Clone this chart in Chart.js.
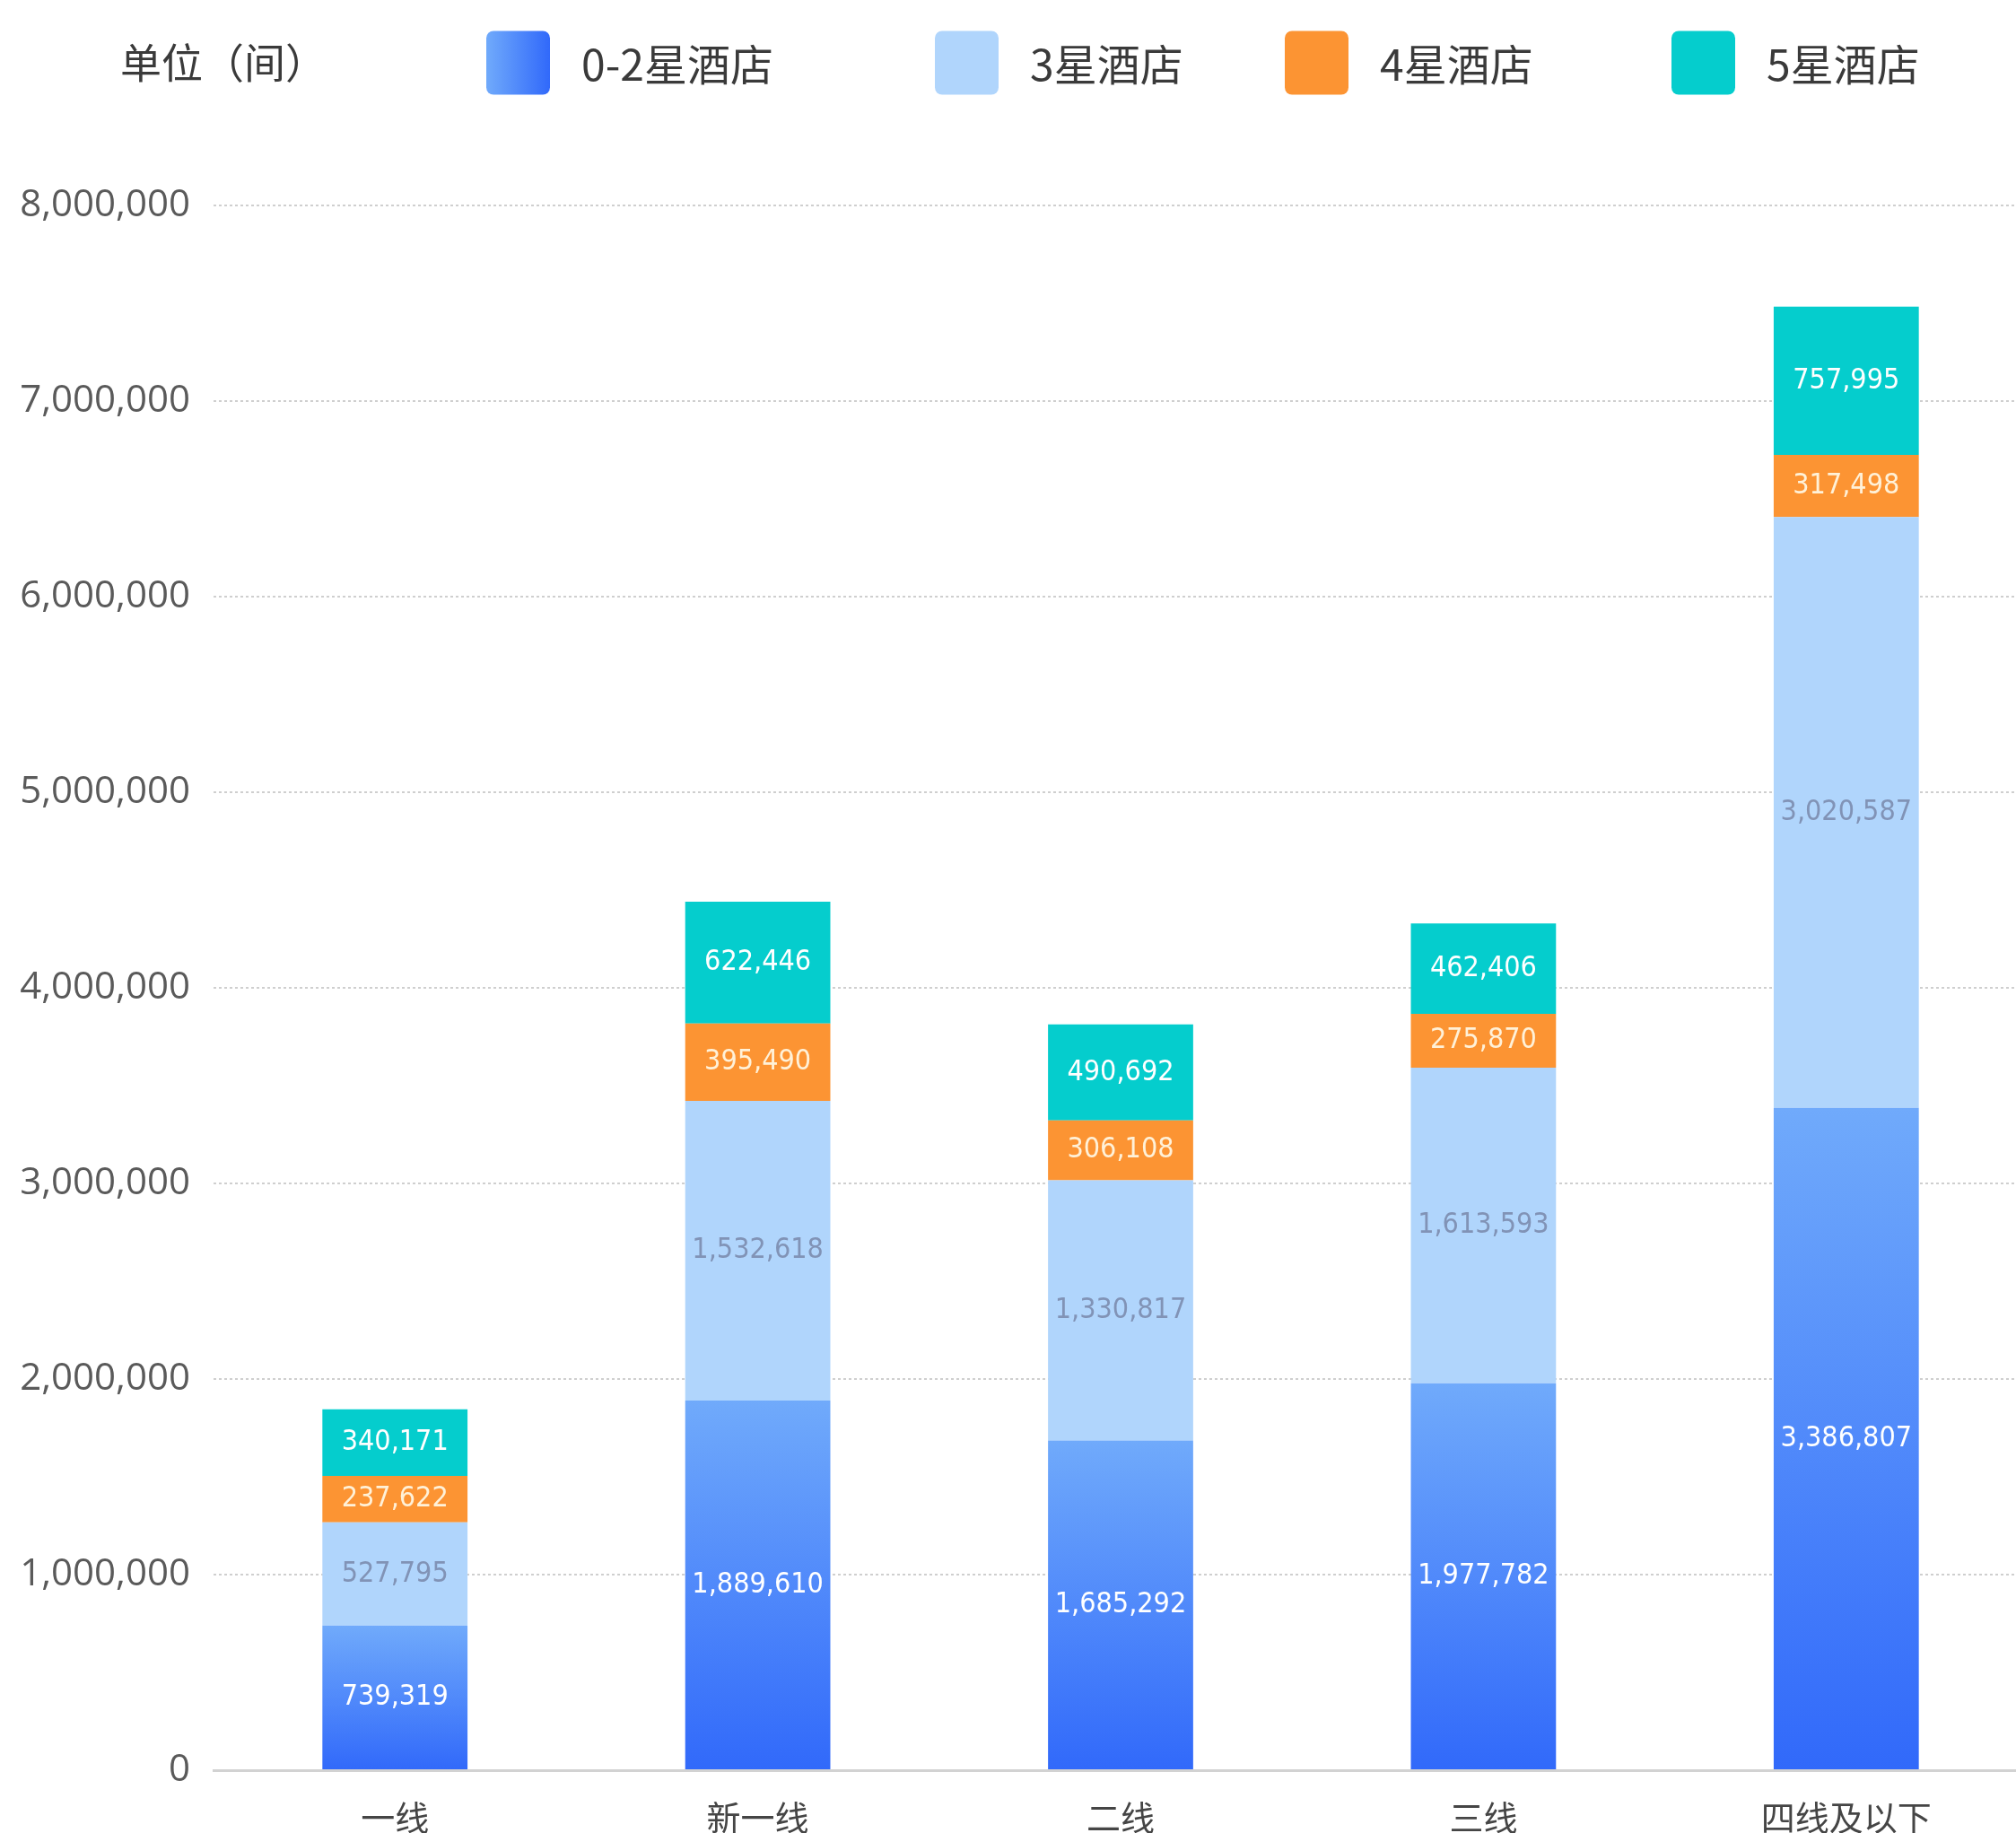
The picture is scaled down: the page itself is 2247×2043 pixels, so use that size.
<!DOCTYPE html>
<html lang="zh-CN">
<head>
<meta charset="utf-8">
<title>各线级城市酒店客房数量</title>
<script src="https://cdn.jsdelivr.net/npm/chart.js@4.4.1/dist/chart.umd.min.js"></script>
<style>
  html, body { margin: 0; padding: 0; background: #fff; overflow: hidden; }
  #wrap { width: 2260px; height: 2043px; }
</style>
</head>
<body>
<div id="wrap"><canvas id="hotelRoomsChart" width="2260" height="2043"></canvas></div>
<script>
// 城市线级
const cityTiers = ["一线", "新一线", "二线", "三线", "四线及以下"];

// 各星级酒店客房数（间）
const rooms02Star = [739319, 1889610, 1685292, 1977782, 3386807];
const rooms3Star = [527795, 1532618, 1330817, 1613593, 3020587];
const rooms4Star = [237622, 395490, 306108, 275870, 317498];
const rooms5Star = [340171, 622446, 490692, 462406, 757995];

const seriesNames = ["0-2星酒店", "3星酒店", "4星酒店", "5星酒店"];
const unitLabel = "单位（间）";

// y 轴刻度
const yTicks = [0, 1000000, 2000000, 3000000, 4000000, 5000000, 6000000, 7000000, 8000000];

const fmt = (v) => v.toLocaleString("en-US");

const COLOR_3 = "#b0d5fc";
const COLOR_4 = "#fc9433";
const COLOR_5 = "#05cdcd";
const BLUE_TOP = "#70aafb";
const BLUE_BOTTOM = "#3169fa";

// 0-2星柱子：每段从上到下的渐变
const blueGradient = (ctx) => {
  const chart = ctx.chart;
  if (!chart.chartArea || ctx.type !== "data") return BLUE_BOTTOM;
  const y = chart.scales.y;
  const top = y.getPixelForValue(ctx.parsed.y);
  const bottom = y.getPixelForValue(0);
  const g = chart.ctx.createLinearGradient(0, top, 0, bottom);
  g.addColorStop(0, BLUE_TOP);
  g.addColorStop(1, BLUE_BOTTOM);
  return g;
};

const labelColors = ["#ffffff", "#8193b6", "#fff1d8", "#ffffff"];

// 柱内数值
const barValueLabels = {
  id: "barValueLabels",
  afterDatasetsDraw(chart) {
    const { ctx } = chart;
    ctx.save();
    ctx.font = "32px 'DejaVu Sans Condensed', Roboto, sans-serif";
    ctx.textAlign = "center";
    ctx.textBaseline = "middle";
    chart.data.datasets.forEach((ds, i) => {
      const meta = chart.getDatasetMeta(i);
      meta.data.forEach((bar, j) => {
        const { x, y, base } = bar.getProps(["x", "y", "base"], true);
        ctx.fillStyle = labelColors[i];
        ctx.fillText(fmt(ds.data[j]), x, (y + base) / 2);
      });
    });
    ctx.restore();
  },
};

// 顶部图例（含单位）
const topLegend = {
  id: "topLegend",
  afterDraw(chart) {
    const { ctx } = chart;
    const cy = 70;
    const boxX = [542, 1042, 1432, 1863];
    const size = 71;
    ctx.save();
    ctx.textBaseline = "middle";
    ctx.textAlign = "left";
    ctx.fillStyle = "#3a3a3a";
    ctx.font = "46px 'Noto Sans CJK SC', sans-serif";
    ctx.fillText(unitLabel, 134, cy);
    ctx.font = "48px 'Noto Sans CJK SC', sans-serif";
    chart.data.datasets.forEach((ds, i) => {
      const x = boxX[i];
      let fill = ds.legendColor;
      if (i === 0) {
        fill = ctx.createLinearGradient(x, 0, x + size, 0);
        fill.addColorStop(0, BLUE_TOP);
        fill.addColorStop(1, BLUE_BOTTOM);
      }
      ctx.fillStyle = fill;
      ctx.beginPath();
      ctx.roundRect(x, cy - size / 2, size, size, 8);
      ctx.fill();
      ctx.fillStyle = "#3a3a3a";
      ctx.fillText(ds.label, x + size + 35, cy + 2);
    });
    ctx.restore();
  },
};

new Chart(document.getElementById("hotelRoomsChart"), {
  type: "bar",
  data: {
    labels: cityTiers,
    datasets: [
      { label: seriesNames[0], data: rooms02Star, backgroundColor: blueGradient, legendColor: BLUE_BOTTOM },
      { label: seriesNames[1], data: rooms3Star, backgroundColor: COLOR_3, legendColor: COLOR_3 },
      { label: seriesNames[2], data: rooms4Star, backgroundColor: COLOR_4, legendColor: COLOR_4 },
      { label: seriesNames[3], data: rooms5Star, backgroundColor: COLOR_5, legendColor: COLOR_5 },
    ],
  },
  options: {
    responsive: false,
    animation: false,
    devicePixelRatio: 1,
    layout: { padding: { top: 229, left: 0, right: 0, bottom: 0 } },
    datasets: { bar: { barPercentage: 0.4, categoryPercentage: 1 } },
    plugins: {
      legend: { display: false },
      tooltip: { enabled: false },
    },
    scales: {
      x: {
        stacked: true,
        grid: { display: false },
        border: { display: true, color: "#d2d2d2", width: 3 },
        ticks: {
          color: "#454545",
          padding: 22,
          font: { family: "'Noto Sans CJK SC', sans-serif", size: 38 },
        },
        afterFit(axis) { axis.height = 70; },
      },
      y: {
        stacked: true,
        min: 0,
        max: 8000000,
        afterBuildTicks(axis) { axis.ticks = yTicks.map((v) => ({ value: v })); },
        grid: { color: "#cfcfcf", lineWidth: 2, drawTicks: false },
        border: { display: false, dash: [3, 3] },
        ticks: {
          color: "#5a5a5a",
          padding: 26,
          font: { family: "'Open Sans', sans-serif", size: 42 },
          callback: (v) => fmt(v),
        },
        afterFit(axis) { axis.width = 238; },
      },
    },
  },
  plugins: [barValueLabels, topLegend],
});
</script>
</body>
</html>
